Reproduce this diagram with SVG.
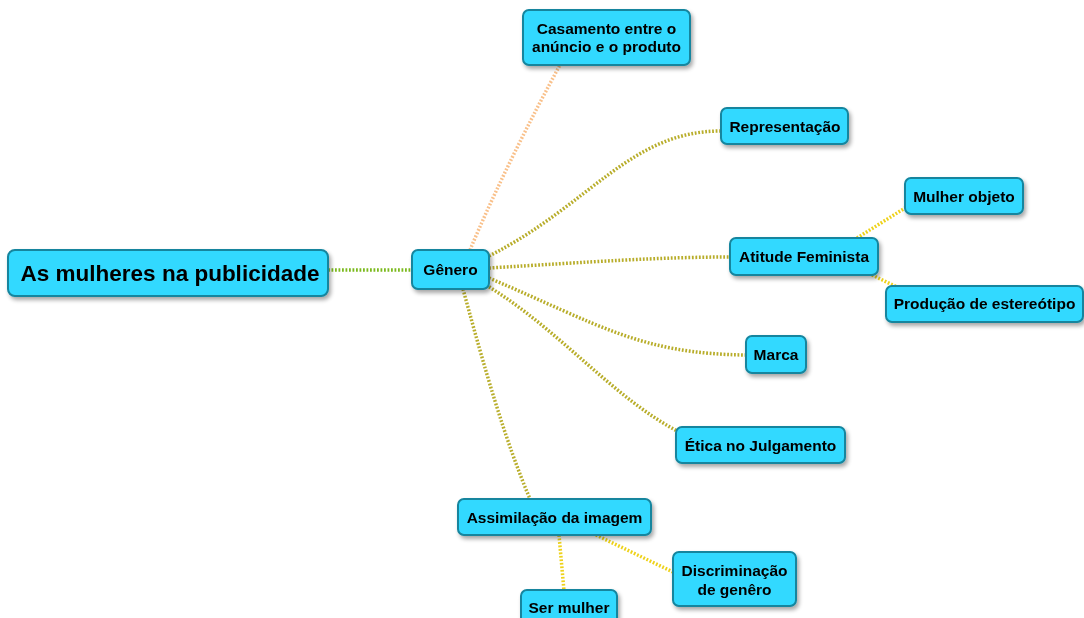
<svg xmlns="http://www.w3.org/2000/svg" width="1084" height="618" viewBox="0 0 1084 618">
<defs>
<filter id="sh" x="-20%" y="-30%" width="140%" height="170%">
<feGaussianBlur in="SourceAlpha" stdDeviation="2"/>
<feOffset dx="2" dy="3" result="b"/>
<feComponentTransfer><feFuncA type="linear" slope="0.35"/></feComponentTransfer>
<feMerge><feMergeNode/><feMergeNode in="SourceGraphic"/></feMerge>
</filter>
</defs>
<style>
.n rect{fill:#33d9ff;stroke:#13859e;stroke-width:2;}
.n text{font-family:"Liberation Sans",Arial,sans-serif;font-weight:bold;font-size:15.5px;fill:#000;text-anchor:middle;}
.c path{fill:none;stroke-width:3.5;stroke-dasharray:1.8 1.7;}
.g{stroke:#7cba1e;}
.o{stroke:#b8ad2a;}
.p{stroke:#f9c08a;}
.y{stroke:#eed21a;}
</style>
<rect width="1084" height="618" fill="#ffffff"/>
<g class="c" id="connectors">
<path class="g" d="M328,270 L412,270"/>
<path class="p" d="M470,250 C495,190 530,120 560,65"/>
<path class="o" d="M489,256 C590,205 630,131 721,131"/>
<path class="o" d="M489,268 C590,262 660,257 730,257"/>
<path class="o" d="M489,278 C600,325 640,354 747,355"/>
<path class="o" d="M486,285 C560,330 610,395 677,431"/>
<path class="o" d="M463,289 C485,370 505,440 530,499"/>
<path class="y" d="M857,238 L905,208"/>
<path class="y" d="M872,275 L897,287"/>
<path class="y" d="M559,535 L564,591"/>
<path class="y" d="M596,535 L673,572"/>
</g>
<g class="n" id="root" filter="url(#sh)"><rect x="8" y="250" width="320" height="46" rx="7"/><text x="170" y="281" style="font-size:22.5px">As mulheres na publicidade</text></g>
<g class="n" id="genero" filter="url(#sh)"><rect x="412" y="250" width="77" height="39" rx="6"/><text x="450.5" y="275">Gênero</text></g>
<g class="n" id="casamento" filter="url(#sh)"><rect x="523" y="10" width="167" height="55" rx="6"/><text x="606.5" y="34">Casamento entre o</text><text x="606.5" y="52">anúncio e o produto</text></g>
<g class="n" id="representacao" filter="url(#sh)"><rect x="721" y="108" width="127" height="36" rx="6"/><text x="785" y="132">Representação</text></g>
<g class="n" id="mulherobjeto" filter="url(#sh)"><rect x="905" y="178" width="118" height="36" rx="6"/><text x="964" y="202">Mulher objeto</text></g>
<g class="n" id="atitude" filter="url(#sh)"><rect x="730" y="238" width="148" height="37" rx="6"/><text x="804" y="262">Atitude Feminista</text></g>
<g class="n" id="producao" filter="url(#sh)"><rect x="886" y="286" width="197" height="36" rx="6"/><text x="984.5" y="309">Produção de estereótipo</text></g>
<g class="n" id="marca" filter="url(#sh)"><rect x="746" y="336" width="60" height="37" rx="6"/><text x="776" y="360">Marca</text></g>
<g class="n" id="etica" filter="url(#sh)"><rect x="676" y="427" width="169" height="36" rx="6"/><text x="760.5" y="451">Ética no Julgamento</text></g>
<g class="n" id="assimilacao" filter="url(#sh)"><rect x="458" y="499" width="193" height="36" rx="6"/><text x="554.5" y="523">Assimilação da imagem</text></g>
<g class="n" id="discriminacao" filter="url(#sh)"><rect x="673" y="552" width="123" height="54" rx="6"/><text x="734.5" y="576">Discriminação</text><text x="734.5" y="595">de genêro</text></g>
<g class="n" id="sermulher" filter="url(#sh)"><rect x="521" y="590" width="96" height="36" rx="6"/><text x="569" y="613">Ser mulher</text></g>
</svg>
